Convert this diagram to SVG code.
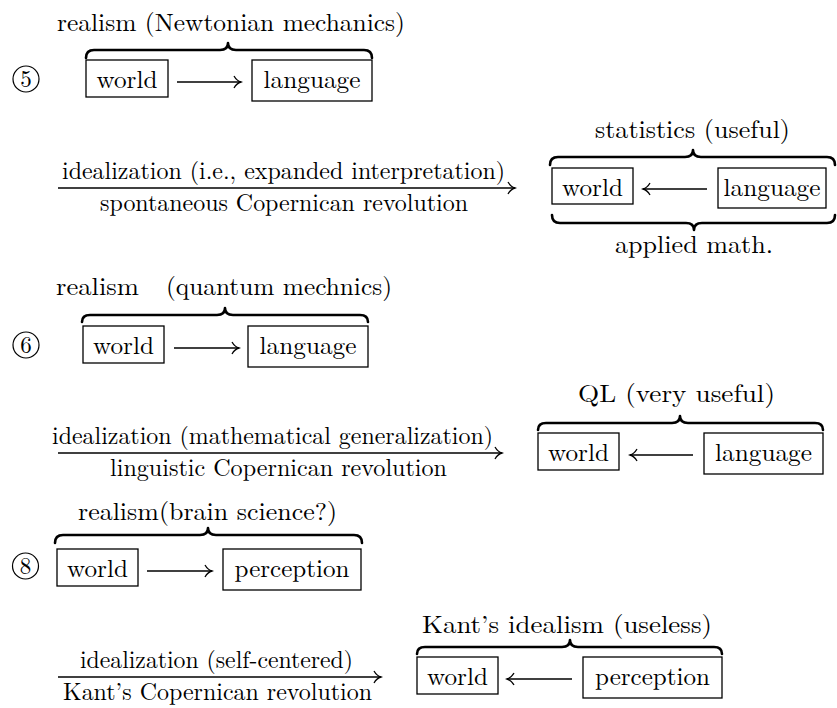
<svg xmlns="http://www.w3.org/2000/svg" width="837" height="708" viewBox="0 0 837 708">
<defs>
<marker id="ah" markerUnits="userSpaceOnUse" markerWidth="12" markerHeight="14" refX="10" refY="7" orient="auto"><path d="M3,1 C5,4.5 7.5,6.3 10,7 C7.5,7.7 5,9.5 3,13" fill="none" stroke="#000" stroke-width="1.3"/></marker>
</defs>
<style>
text{font-family:"Latin Modern Roman","Liberation Serif","Noto Serif CJK SC",serif;fill:#000;text-anchor:middle}
.t{font-size:25px}
.l{font-size:24px}
.n{font-size:23px}
.s{text-anchor:start}
.box{fill:none;stroke:#000;stroke-width:1.3}
.br{fill:none;stroke:#000;stroke-width:2.6;stroke-linecap:round;stroke-linejoin:round}
.ar{fill:none;stroke:#000;stroke-width:1.3;marker-end:url(#ah)}
.c{fill:none;stroke:#000;stroke-width:1.2}
</style>
<rect width="837" height="708" fill="#fff"/>

<!-- Block 5 -->
<g id="n5-num"><circle class="c" cx="26" cy="79" r="13"/><text class="n" x="26" y="87">5</text></g>
<g id="n5-title"><text class="t" x="231" y="31" textLength="348" lengthAdjust="spacingAndGlyphs">realism (Newtonian mechanics)</text>
<path class="br" d="M86,58 Q86,50 94,50 L220,50 Q228,50 228,43 Q228,50 236,50 L364,50 Q372,50 372,58"/></g>
<g id="n5-world"><rect class="box" x="86" y="60" width="82" height="37"/><text class="t" x="127" y="88" textLength="61" lengthAdjust="spacingAndGlyphs">world</text></g>
<g id="n5-language"><rect class="box" x="252" y="60" width="120" height="41"/><text class="t" x="312" y="88" textLength="97" lengthAdjust="spacingAndGlyphs">language</text></g>

<g id="n5b-title"><text class="t" x="692.5" y="138" textLength="195" lengthAdjust="spacingAndGlyphs">statistics (useful)</text>
<path class="br" d="M550,165 Q550,157 558,157 L685,157 Q693,157 693,150 Q693,157 701,157 L827,157 Q835,157 835,165"/></g>
<g id="n5b-world"><rect class="box" x="552" y="168" width="81" height="36"/><text class="t" x="592.5" y="196" textLength="61" lengthAdjust="spacingAndGlyphs">world</text></g>
<g id="n5b-language"><rect class="box" x="718" y="168" width="108" height="40"/><text class="t" x="772" y="196" textLength="97" lengthAdjust="spacingAndGlyphs">language</text></g>
<g id="n5b-bottom"><path class="br" d="M552,215 Q552,223 560,223 L686,223 Q694,223 694,230 Q694,223 702,223 L827,223 Q835,223 835,215"/>
<text class="t" x="694" y="253" textLength="158" lengthAdjust="spacingAndGlyphs">applied math.</text></g>

<!-- Block 6 -->
<g id="n6-num"><circle class="c" cx="26" cy="345" r="13"/><text class="n" x="26" y="353">6</text></g>
<g id="n6-title"><text class="t s" y="295"><tspan x="56" textLength="83" lengthAdjust="spacingAndGlyphs">realism</tspan><tspan x="166" textLength="226" lengthAdjust="spacingAndGlyphs">(quantum mechnics)</tspan></text>
<path class="br" d="M82,322 Q82,315 90,315 L217,315 Q225,315 225,308 Q225,315 233,315 L360,315 Q368,315 368,322"/></g>
<g id="n6-world"><rect class="box" x="83" y="326" width="81" height="37"/><text class="t" x="123.5" y="354" textLength="61" lengthAdjust="spacingAndGlyphs">world</text></g>
<g id="n6-language"><rect class="box" x="248" y="326" width="120" height="41"/><text class="t" x="308" y="354" textLength="97" lengthAdjust="spacingAndGlyphs">language</text></g>

<g id="n6b-title"><text class="t" x="676.5" y="402" textLength="197" lengthAdjust="spacingAndGlyphs">QL (very useful)</text>
<path class="br" d="M538,430 Q538,423 546,423 L672,423 Q680,423 680,416 Q680,423 688,423 L815,423 Q823,423 823,430"/></g>
<g id="n6b-world"><rect class="box" x="538" y="433" width="81" height="37"/><text class="t" x="578.5" y="461" textLength="61" lengthAdjust="spacingAndGlyphs">world</text></g>
<g id="n6b-language"><rect class="box" x="704" y="433" width="119" height="41"/><text class="t" x="763.5" y="461" textLength="97" lengthAdjust="spacingAndGlyphs">language</text></g>

<!-- Block 8 -->
<g id="n8-num"><circle class="c" cx="25.5" cy="566" r="13"/><text class="n" x="25.5" y="574">8</text></g>
<g id="n8-title"><text class="t" x="207.5" y="520" textLength="259" lengthAdjust="spacingAndGlyphs">realism(brain science?)</text>
<path class="br" d="M55,543 Q55,535 63,535 L200,535 Q208,535 208,528 Q208,535 216,535 L354,535 Q362,535 362,543"/></g>
<g id="n8-world"><rect class="box" x="57" y="549" width="81" height="37"/><text class="t" x="97.5" y="577" textLength="61" lengthAdjust="spacingAndGlyphs">world</text></g>
<g id="n8-perception"><rect class="box" x="223" y="549" width="138" height="41"/><text class="t" x="292" y="577" textLength="115" lengthAdjust="spacingAndGlyphs">perception</text></g>

<g id="n8b-title"><text class="t" x="567" y="633" textLength="290" lengthAdjust="spacingAndGlyphs">Kant’s idealism (useless)</text>
<path class="br" d="M417,654 Q417,647 425,647 L562,647 Q570,647 570,640 Q570,647 578,647 L714,647 Q722,647 722,654"/></g>
<g id="n8b-world"><rect class="box" x="417" y="657" width="81" height="37"/><text class="t" x="457.5" y="685" textLength="61" lengthAdjust="spacingAndGlyphs">world</text></g>
<g id="n8b-perception"><rect class="box" x="583" y="657" width="139" height="41"/><text class="t" x="652.5" y="685" textLength="115" lengthAdjust="spacingAndGlyphs">perception</text></g>

<!-- Connectors -->
<g id="connectors">
<line class="ar" x1="177" y1="82" x2="241" y2="82"/>
<line class="ar" x1="58" y1="188" x2="515" y2="188"/>
<text class="l" x="283.5" y="179" textLength="443" lengthAdjust="spacingAndGlyphs">idealization (i.e., expanded interpretation)</text>
<text class="l" x="284" y="211" textLength="368" lengthAdjust="spacingAndGlyphs">spontaneous Copernican revolution</text>
<line class="ar" x1="707" y1="189" x2="643" y2="189"/>

<line class="ar" x1="174" y1="348" x2="239" y2="348"/>
<line class="ar" x1="58" y1="453" x2="502" y2="453"/>
<text class="l" x="272.5" y="444" textLength="441" lengthAdjust="spacingAndGlyphs">idealization (mathematical generalization)</text>
<text class="l" x="278.5" y="476" textLength="337" lengthAdjust="spacingAndGlyphs">linguistic Copernican revolution</text>
<line class="ar" x1="693" y1="455" x2="630" y2="455"/>

<line class="ar" x1="147" y1="571" x2="212" y2="571"/>
<line class="ar" x1="58" y1="677" x2="381" y2="677"/>
<text class="l" x="216.5" y="668" textLength="273" lengthAdjust="spacingAndGlyphs">idealization (self-centered)</text>
<text class="l" x="217.5" y="700" textLength="309" lengthAdjust="spacingAndGlyphs">Kant’s Copernican revolution</text>
<line class="ar" x1="572" y1="679" x2="507" y2="679"/>
</g>
</svg>
